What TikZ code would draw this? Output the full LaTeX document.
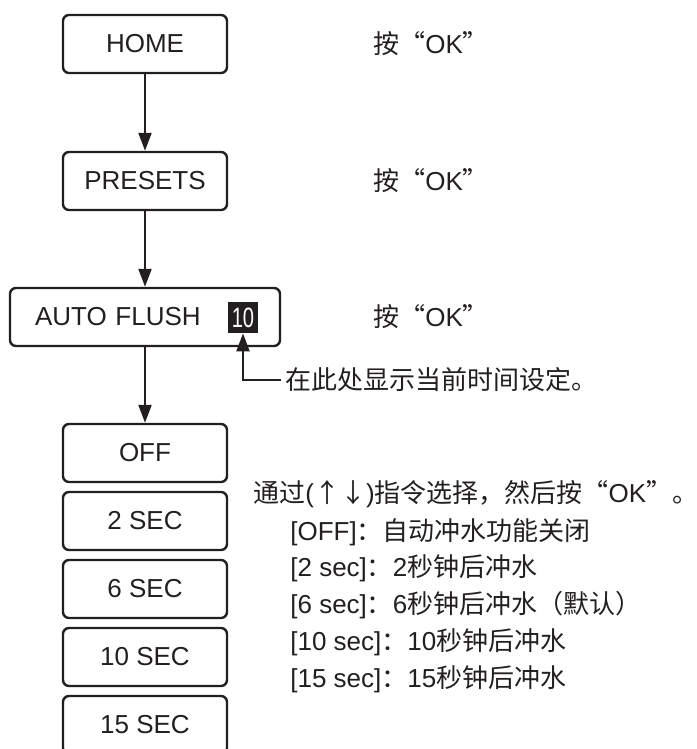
\documentclass[tikz,border=0pt]{standalone}
\usepackage{fontspec}
\setmainfont{Liberation Sans}
\newfontfamily\cjk{Noto Sans CJK SC}
\usetikzlibrary{arrows.meta}

\definecolor{ink}{RGB}{35,31,32}

\begin{document}
\begin{tikzpicture}[x=0.5pt, y=-0.5pt, >={Triangle[length=9pt,width=6.5pt]},
  menubox/.style={draw=ink, text=ink, line width=1.2pt, rounded corners=3pt,
    minimum width=82pt, minimum height=29pt, inner sep=0pt,
    font=\fontsize{13}{15}\selectfont},
  note/.style={anchor=west, inner sep=0pt, text=ink,
    font=\fontsize{13}{15}\selectfont},
  flow/.style={->, draw=ink, line width=1.1pt}]

%% ---- Page frame (reference proportions) ----
\useasboundingbox (0,0) rectangle (696,749);

%% ---- Menu chain ----
\node[menubox] (home) at (145,44) {HOME};
\node[menubox] (presets) at (145,181) {PRESETS};
\node[menubox, inner xsep=12.5pt, text width=110pt, align=left] (auto) at (145,317)
  {AUTO FLUSH};

%% black value field inside AUTO FLUSH
\node[fill=ink, text=white, minimum width=15pt, minimum height=15.5pt, inner sep=0pt,
  font=\fontsize{14}{16}\selectfont] (timeval) at (243,317.5)
  {\scalebox{0.72}[1]{10}};

%% ---- Option boxes (stacked, no gaps for arrows) ----
\foreach \name/\lbl/\y in {off/OFF/453, sec2/2 SEC/521, sec6/6 SEC/589,
                           sec10/10 SEC/657, sec15/15 SEC/725} {
  \node[menubox] (\name) at (145,\y) {\lbl};
}

%% ---- Arrows ----
\draw[flow] (home) -- (presets);
\draw[flow] (presets) -- (auto);
\draw[flow] (auto) -- (off);

%% ---- Notes on the right ----
\node[note] (okhome) at (373,44) {{\cjk 按“}OK{\cjk ”}};
\node[note] (okpresets) at (373,181) {{\cjk 按“}OK{\cjk ”}};
\node[note] (okauto) at (373,317) {{\cjk 按“}OK{\cjk ”}};

%% callout to the value field
\node[note] (hint) at (285,380) {{\cjk 在此处显示当前时间设定。}};
\draw[flow] ([xshift=-2pt]hint.west) -| (timeval.south);

%% ---- Selection text ----
\node[note] (pick) at (253,494)
  {{\cjk 通过}({\cjk ↑↓}){\cjk 指令选择，然后按“}OK{\cjk ”。}};
\node[note] (descoff) at (290,532) {[OFF]{\cjk ：自动冲水功能关闭}};
\node[note] (desc2) at (290,568) {[2 sec]{\cjk ：}2{\cjk 秒钟后冲水}};
\node[note] (desc6) at (290,605) {[6 sec]{\cjk ：}6{\cjk 秒钟后冲水（默认）}};
\node[note] (desc10) at (290,642) {[10 sec]{\cjk ：}10{\cjk 秒钟后冲水}};
\node[note] (desc15) at (290,679) {[15 sec]{\cjk ：}15{\cjk 秒钟后冲水}};

\end{tikzpicture}
\end{document}
